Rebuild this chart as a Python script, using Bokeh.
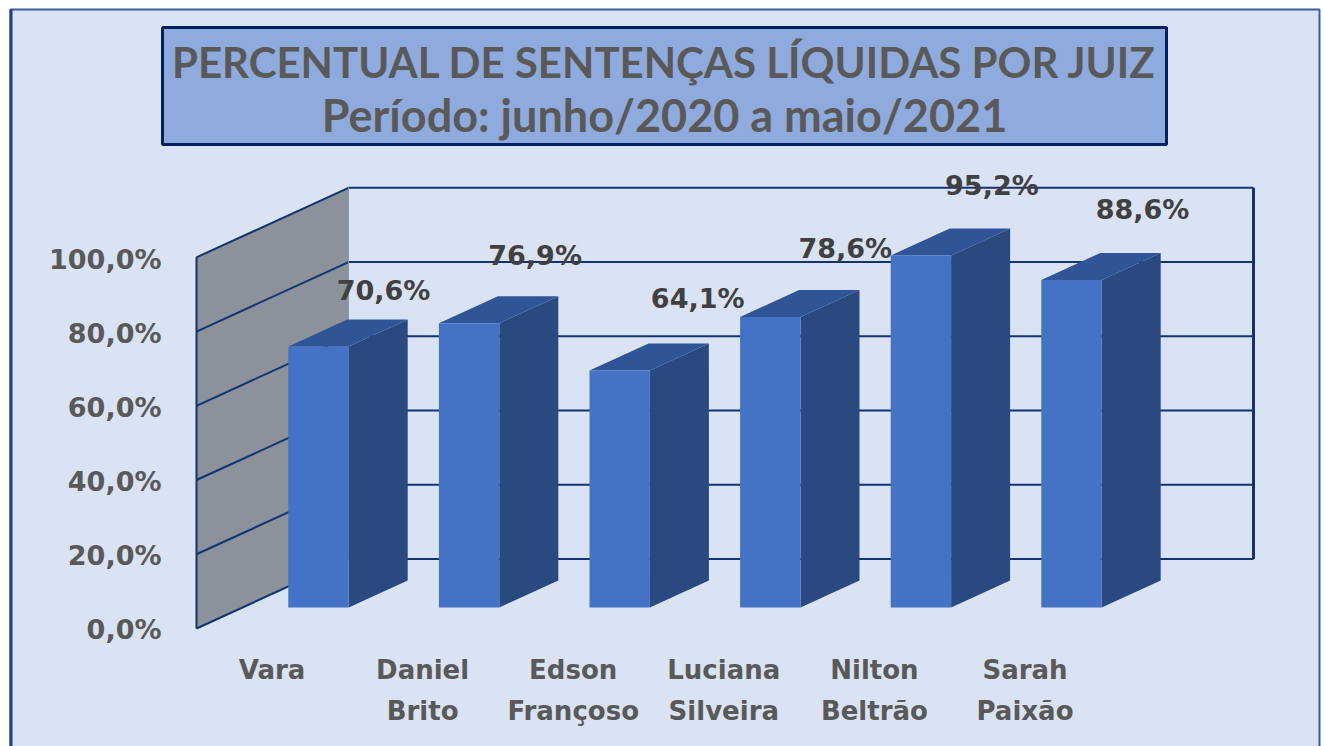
from bokeh.embed import file_html
from bokeh.resources import INLINE
from bokeh.plotting import figure
from bokeh.models import Range1d, LinearAxis, FixedTicker, Label, ColumnDataSource
from bokeh.core.properties import value

# ---- data ----
categories = ["Vara", "Daniel\nBrito", "Edson\nFrançoso", "Luciana\nSilveira", "Nilton\nBeltrão", "Sarah\nPaixão"]
percentages = [70.6, 76.9, 64.1, 78.6, 95.2, 88.6]
value_labels = ["70,6%", "76,9%", "64,1%", "78,6%", "95,2%", "88,6%"]
axis_ticks = [0, 20, 40, 60, 80, 100]
axis_labels = ["0,0%", "20,0%", "40,0%", "60,0%", "80,0%", "100,0%"]
title_line_1 = "PERCENTUAL DE SENTENÇAS LÍQUIDAS POR JUIZ"
title_line_2 = "Período: junho/2020 a maio/2021"

# ---- layout ----
W, H = 1324, 746
PX_PER_CAT = 150.6
PX_PER_PCT = 3.697
CAT0_PX = 318      # page x of the first bar's front centre
ZERO_PX = 607      # page y of the bars' front base


def X(px):
    return (px - CAT0_PX) / PX_PER_CAT


def Y(py):
    return (ZERO_PX - py) / PX_PER_PCT


bar_half = 30.2 / PX_PER_CAT
bar_dx = 59 / PX_PER_CAT
bar_dy = 27 / PX_PER_PCT
wall_front_x, wall_back_x, back_right_x = X(196), X(348), X(1253)
wall_front_y, wall_back_y = Y(628), Y(558.5)
wall_scale = 1.004
label_dx = [65, 66, 78, 75, 71, 71]
label_dy = [56, 68, 72, 68, 70, 70]

NAVY = "#12336f"
BG = "#dae3f3"
TXT = "#595959"
AXIS_FONT = "DejaVu Sans"

p = figure(width=W, height=H, output_backend="svg", toolbar_location=None,
           x_range=Range1d(X(0), X(W)), y_range=Range1d(Y(H), Y(0)),
           x_axis_location=None, y_axis_location=None, tools="",
           min_border=0, background_fill_color="white", border_fill_color="white",
           outline_line_color=None)
p.grid.visible = False

# panel and title box
p.quad(left=X(10), right=X(1319), top=Y(9), bottom=Y(H + 20), fill_color=BG, line_color="#3d5c9c", line_width=2)
p.quad(left=X(9), right=X(12), top=Y(9), bottom=Y(H + 20), fill_color="#1c3f86", line_color=None)
p.quad(left=X(162), right=X(1166), top=Y(27), bottom=Y(144), fill_color="#8faadc", line_color="#002060", line_width=3)

# extra ranges so that axis labels sit where the 3-D projection puts them
TICK_ZERO_PX = 629
TICK_SCALE = 3.7
p.extra_y_ranges["ticks"] = Range1d((TICK_ZERO_PX - H) / TICK_SCALE, TICK_ZERO_PX / TICK_SCALE)
CAT_LABEL0_PX = 271.5
p.extra_x_ranges["cats"] = Range1d(-CAT_LABEL0_PX / PX_PER_CAT, (W - CAT_LABEL0_PX) / PX_PER_CAT)

yaxis = LinearAxis(y_range_name="ticks", ticker=FixedTicker(ticks=axis_ticks), fixed_location=X(168),
                   major_label_overrides={t: l for t, l in zip(axis_ticks, axis_labels)},
                   axis_line_color=None, major_tick_line_color=None, minor_tick_line_color=None,
                   major_label_text_font=AXIS_FONT, major_label_text_font_size="27px",
                   major_label_text_font_style="bold", major_label_text_color=TXT,
                   major_label_standoff=1)
p.add_layout(yaxis, "left")

xaxis = LinearAxis(x_range_name="cats", ticker=FixedTicker(ticks=list(range(len(categories)))),
                   fixed_location=Y(640),
                   major_label_overrides={i: c for i, c in enumerate(categories)},
                   axis_line_color=None, major_tick_line_color=None, minor_tick_line_color=None,
                   major_label_text_font=AXIS_FONT, major_label_text_font_size="26px",
                   major_label_text_font_style="bold", major_label_text_color=TXT,
                   major_label_standoff=8, major_label_text_line_height=1.37)
p.add_layout(xaxis, "below")

# walls
p.patch([wall_front_x, wall_back_x, wall_back_x, wall_front_x],
        [wall_front_y, wall_back_y, wall_back_y + 100 * wall_scale, wall_front_y + 100 * wall_scale],
        fill_color="#8b929b", line_color=None)
wall_xs, wall_ys, back_xs, back_ys = [], [], [], []
for t in axis_ticks:
    wall_xs.append([wall_front_x, wall_back_x])
    wall_ys.append([wall_front_y + t * wall_scale, wall_back_y + t * wall_scale])
    back_xs.append([wall_back_x, back_right_x])
    back_ys.append([wall_back_y + t * wall_scale, wall_back_y + t * wall_scale])
p.multi_line(wall_xs, wall_ys, line_color=NAVY, line_width=2)
p.multi_line(back_xs, back_ys, line_color=NAVY, line_width=2)
p.line([wall_front_x, wall_front_x], [wall_front_y, wall_front_y + 100 * wall_scale], line_color=NAVY, line_width=2)
p.line([wall_back_x, wall_back_x], [wall_back_y, wall_back_y + 100 * wall_scale], line_color="#8a9ab5", line_width=1)
p.line([back_right_x, back_right_x], [wall_back_y, wall_back_y + 100 * wall_scale], line_color=NAVY, line_width=3)

# 3-D bars
for i, v in enumerate(percentages):
    l, r = i - bar_half, i + bar_half
    p.patch([r, r + bar_dx, r + bar_dx, r], [0, bar_dy, v + bar_dy, v], fill_color="#2a4a7f", line_color=None)
    p.patch([l, r, r + bar_dx, l + bar_dx], [v, v, v + bar_dy, v + bar_dy], fill_color="#2f5597", line_color=None)
    p.quad(left=l, right=r, bottom=0, top=v, fill_color="#4472c4", line_color=None)

src = ColumnDataSource(dict(x=list(range(len(percentages))), y=percentages, t=value_labels,
                            xo=label_dx, yo=[-d for d in label_dy]))
p.text(x="x", y="y", text="t", x_offset="xo", y_offset="yo", source=src, text_align="center",
       text_baseline="middle", text_font=value(AXIS_FONT), text_font_size="27px", text_font_style="bold",
       text_color="#404040")

# title
p.add_layout(Label(x=X(664), y=Y(61), text=title_line_1, text_align="center", text_baseline="middle",
                   text_font="Lato", text_font_size="42px", text_font_style="bold", text_color=TXT))
p.add_layout(Label(x=X(664), y=Y(114), text=title_line_2, text_align="center", text_baseline="middle",
                   text_font="Lato", text_font_size="45px", text_font_style="bold", text_color=TXT))

open("out.html", "w").write(file_html(p, INLINE))
